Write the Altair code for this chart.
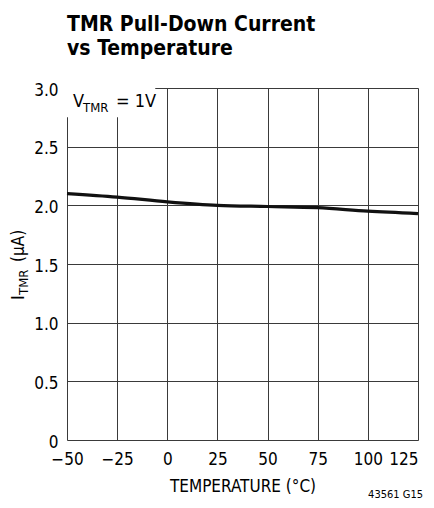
import altair as alt
import pandas as pd

FONT = "DejaVu Sans Condensed, Liberation Sans Narrow, sans-serif"

# data
temps = [-50, -25, 0, 25, 50, 75, 100, 125]
current = [2.10, 2.07, 2.03, 2.00, 1.99, 1.98, 1.95, 1.93]

x_ticks = [-50, -25, 0, 25, 50, 75, 100, 125]
y_ticks = [0, 0.5, 1.0, 1.5, 2.0, 2.5, 3.0]

# annotation box (white background behind the V_TMR label)
box_x = [-50, -6]
box_y = [3.0, 2.75]

df = pd.DataFrame({"t": temps, "i": current})

xs = alt.Scale(domain=[-50, 125], nice=False, zero=False)
ys = alt.Scale(domain=[0, 3], nice=False)

x_axis = alt.Axis(values=x_ticks, title="TEMPERATURE (°C)", titleFont=FONT,
                  titleFontSize=17, titleFontWeight="normal", titleColor="black",
                  titleBaseline="alphabetic", titleY=51,
                  labelFont=FONT, labelFontSize=17, labelColor="black",
                  labelPadding=11, labelBaseline="top", labelFlush=False,
                  labelAlign=alt.condition("datum.value == 125", alt.value("right"), alt.value("center")),
                  ticks=False, domain=False, grid=True,
                  gridColor="#3a3a3a", gridWidth=1)
y_axis = alt.Axis(values=y_ticks, title=None,
                  labelExpr="datum.value == 0 ? '0' : format(datum.value, '.1f')",
                  labelFont=FONT, labelFontSize=17, labelColor="black",
                  labelPadding=9, labelOffset=2, labelFlush=False,
                  ticks=False, domain=False, grid=True,
                  gridColor="#3a3a3a", gridWidth=1)

line = alt.Chart(df).mark_line(color="#111111", strokeWidth=3.2,
                               interpolate="monotone").encode(
    x=alt.X("t:Q", scale=xs, axis=x_axis),
    y=alt.Y("i:Q", scale=ys, axis=y_axis),
)

box = alt.Chart(pd.DataFrame({"x": [box_x[0]], "x2": [box_x[1]],
                              "y": [box_y[0]], "y2": [box_y[1]]})).mark_rect(
    color="white").encode(x=alt.X("x:Q", scale=xs), x2="x2:Q",
                          y=alt.Y("y:Q", scale=ys), y2="y2:Q")

anchor = pd.DataFrame({"x": [-50], "y": [3.0]})
def ann(text, dx, dy, size):
    return alt.Chart(anchor).mark_text(text=text, align="left", baseline="alphabetic",
                                       dx=dx, dy=dy, font=FONT, fontSize=size,
                                       color="black").encode(
        x=alt.X("x:Q", scale=xs), y=alt.Y("y:Q", scale=ys))

ann_v = ann("V", 6, 19, 18)
ann_sub = ann("TMR", 16, 24, 13)
ann_eq = ann("= 1V", 49, 19, 18)

yanchor = pd.DataFrame({"x": [-50], "y": [1.5]})
def ytitle(text, dx, dy, size):
    return alt.Chart(yanchor).mark_text(text=text, align="left", baseline="alphabetic",
                                        angle=270, dx=dx, dy=dy, font=FONT,
                                        fontSize=size, color="black").encode(
        x=alt.X("x:Q", scale=xs), y=alt.Y("y:Q", scale=ys))

yt_i = ytitle("I", -36, -43, 18)
yt_sub = ytitle("TMR", -31, -39, 13)
yt_unit = ytitle("(µA)", 2, -43, 17)

foot_anchor = pd.DataFrame({"x": [125], "y": [0]})
foot = alt.Chart(foot_anchor).mark_text(text="43561 G15", align="right",
                                        baseline="alphabetic", dx=5, dy=58, font=FONT,
                                        fontSize=11, color="black").encode(
    x=alt.X("x:Q", scale=xs), y=alt.Y("y:Q", scale=ys))

chart = alt.layer(box, line, ann_v, ann_sub, ann_eq, yt_i, yt_sub, yt_unit, foot).properties(
    width=351, height=352,
    title=alt.TitleParams(text=["TMR Pull-Down Current", "vs Temperature"],
                          anchor="start", frame="group", fontSize=21,
                          fontWeight="bold", font=FONT, lineHeight=24,
                          baseline="bottom", offset=30, dy=29, color="black"),
    autosize=alt.AutoSizeParams(type="none"),
    padding={"left": 59, "top": 80, "right": 8, "bottom": 60},
).configure_view(stroke="black", strokeWidth=1.5).configure(background="white")

chart.save("out.html", embed_options={"renderer": "svg", "actions": False})
